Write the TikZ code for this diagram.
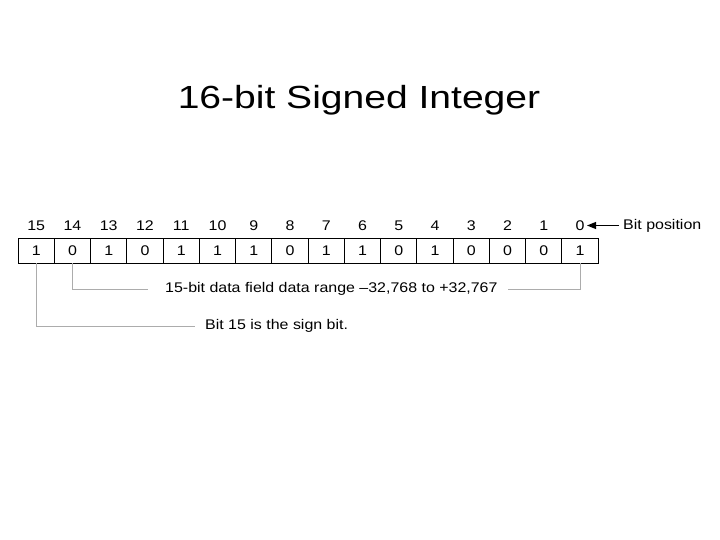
\documentclass[tikz,border=0pt]{standalone}
\usepackage{fontspec}
\setmainfont{Liberation Sans}
\usetikzlibrary{arrows.meta}
\newcommand{\wide}[1]{\scalebox{1.14}[1]{#1}}

\begin{document}
\begin{tikzpicture}[x=1pt,y=-1pt]
\tikzset{
  bitcell/.style={draw=black, line width=0.9pt, minimum width=36.25pt, minimum height=25pt, inner sep=0pt, font=\fontsize{14}{16}\selectfont},
  bitnum/.style={inner sep=0pt, font=\fontsize{14}{16}\selectfont},
  callout/.style={draw=gray!65, line width=0.7pt},
  note/.style={inner sep=0pt, anchor=west, font=\fontsize{14}{16}\selectfont}
}
\useasboundingbox (0,0) rectangle (720,540);
\node[inner sep=0pt, font=\fontsize{32}{36}\selectfont] (title) at (359,100) {\scalebox{1.22}[1]{16-bit Signed Integer}};
% the sixteen bits, bit 15 on the left
\foreach \b [count=\i from 0] in {1,0,1,0,1,1,1,0,1,1,0,1,0,0,0,1} {
  \pgfmathtruncatemacro{\pos}{15-\i}
  \node[bitcell] (c\pos) at ({36.25+\i*36.25},250.5) {\wide{\b}};
  \node[bitnum] (n\pos) at ({36.25+\i*36.25},225.5) {\wide{\pos}};
}
\node[note] (bitpos) at (623,226) {\wide{Bit position}};
\draw[-{Triangle[length=9pt,width=7pt]}, line width=1pt] (bitpos.west) ++(-4,-0.5) -- ++(-32,0);
% callouts
\node[note] (range) at (165,288.5) {\wide{15-bit data field data range –32,768 to +32,767}};
\node[note] (sign) at (205,325.5) {\wide{Bit 15 is the sign bit.}};
\draw[callout] (c14.south) |- ([xshift=-17pt,yshift=-0.5pt]range.west);
\draw[callout] (c0.south) |- ([xshift=10pt,yshift=-0.5pt]range.east);
\draw[callout] (c15.south) |- ([xshift=-10pt,yshift=-0.5pt]sign.west);
\end{tikzpicture}
\end{document}
